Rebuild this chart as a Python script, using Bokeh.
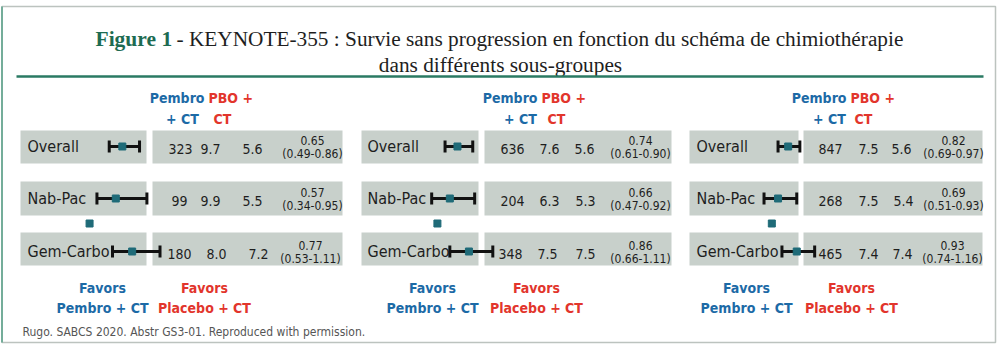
from bokeh.plotting import figure
from bokeh.models import Range1d
from bokeh.core.properties import value
from bokeh.embed import file_html
from bokeh.resources import INLINE

# ---------------- data ----------------
title_bold = "Figure 1"
title_rest = "- KEYNOTE-355 : Survie sans progression en fonction du schéma de chimiothérapie"
title_line2 = "dans différents sous-groupes"
subgroups = ["Overall", "Nab-Pac", "Gem-Carbo"]
header_pembro = ["Pembro", "+ CT"]
header_pbo = ["PBO +", "CT"]
favors_left = ["Favors", "Pembro + CT"]
favors_right = ["Favors", "Placebo + CT"]
source_note = "Rugo. SABCS 2020. Abstr GS3-01. Reproduced with permission."

# one list per panel, one value per subgroup
n_patients = [[323, 99, 180], [636, 204, 348], [847, 268, 465]]
pfs_pembro = [[9.7, 9.9, 8.0], [7.6, 6.3, 7.5], [7.5, 7.5, 7.4]]
pfs_pbo = [[5.6, 5.5, 7.2], [5.6, 5.3, 7.5], [5.6, 5.4, 7.4]]
hr = [[0.65, 0.57, 0.77], [0.74, 0.66, 0.86], [0.82, 0.69, 0.93]]
hr_low = [[0.49, 0.34, 0.53], [0.61, 0.47, 0.66], [0.69, 0.51, 0.74]]
hr_high = [[0.86, 0.95, 1.11], [0.90, 0.92, 1.11], [0.97, 0.93, 1.16]]
stray_marker_hr = [0.25, 0.53, 0.61]

# ---------------- styles / layout ----------------
NARROW = "DejaVu Sans Condensed, Roboto"
SERIF = "Liberation Serif"
BLUE = "#1c6aa6"
RED = "#e2352c"
GREEN = "#1d6b52"
BOX = "#c8d0cb"
MARK = "#1f6b78"
TXT = "#1e1e1e"

PANELS = [
    dict(lab_box=(20, 146), val_box=(152, 342), lab_x=27, hdr=(204, 208, 182, 222),
         cols=[(180, 210, 252, 312), (179, 210, 252, 312), (179, 216, 258, 310)],
         fav=(102, 204), a=68.6, b=81.9),
    dict(lab_box=(361, 478), val_box=(484, 671), lab_x=367, hdr=(537, 541, 520, 556),
         cols=[(512, 549, 584, 640), (512, 549, 585, 640), (510, 547, 585, 640)],
         fav=(432, 536), a=386.3, b=95.5),
    dict(lab_box=(689, 798), val_box=(803, 982), lab_x=696, hdr=(846, 850, 829, 863),
         cols=[(830, 868, 901, 953), (830, 868, 903, 953), (830, 868, 902, 952)],
         fav=(746, 851), a=723.8, b=77.9),
]
ROWS = [(130, 163, 146), (181, 215, 198), (232, 265, 251)]
X0, X1, Y0, Y1 = 0, 1000, 0, 356

p = figure(width=X1 - X0, height=Y1 - Y0, x_range=Range1d(X0, X1), y_range=Range1d(Y1, Y0),
           x_axis_location=None, y_axis_location=None,
           output_backend="svg", toolbar_location=None, min_border=0)
p.grid.visible = False
p.outline_line_color = None
p.background_fill_color = "white"
p.border_fill_color = "white"


def txt(x, y, s, size, color=TXT, font=NARROW, style="normal", align="center", base="middle"):
    p.text(x=[x], y=[y], text=[s], text_font=value(font), text_font_size=size,
           text_font_style=style, text_color=color, text_align=align, text_baseline=base)


# frame
p.quad(left=[1.5], right=[995], top=[6], bottom=[342], fill_color=None, line_color="#bcc3bf", line_width=1.5)
p.segment(x0=[1.5], x1=[1.5], y0=[6], y1=[342], line_color="#74ad9a", line_width=2)

# title
txt(95, 38, title_bold, "21.5px", color=GREEN, font=SERIF, style="bold", align="left", base="alphabetic")
txt(176, 38, title_rest, "21.3px", font=SERIF, align="left", base="alphabetic")
txt(500, 64, title_line2, "21.3px", font=SERIF, align="center", base="alphabetic")
p.segment(x0=[16], x1=[983], y0=[76], y1=[76], line_color="#2a7a63", line_width=2.5)

for i, L in enumerate(PANELS):
    rname = "hr%d" % i
    p.extra_x_ranges[rname] = Range1d((X0 - L["a"]) / L["b"], (X1 - L["a"]) / L["b"])

    # boxes
    p.quad(left=[L["lab_box"][0]] * 3, right=[L["lab_box"][1]] * 3,
           top=[r[0] for r in ROWS], bottom=[r[1] for r in ROWS], fill_color=BOX, line_color=None)
    p.quad(left=[L["val_box"][0]] * 3, right=[L["val_box"][1]] * 3,
           top=[r[0] for r in ROWS], bottom=[r[1] for r in ROWS], fill_color=BOX, line_color=None)

    # headers
    hp, hb, hp2, hb2 = L["hdr"]
    txt(hp, 97, header_pembro[0], "14px", color=BLUE, style="bold", align="right")
    txt(hb, 97, header_pbo[0], "14px", color=RED, style="bold", align="left")
    txt(hp2, 118, header_pembro[1], "14px", color=BLUE, style="bold")
    txt(hb2, 118, header_pbo[1], "14px", color=RED, style="bold")

    for j, g in enumerate(subgroups):
        top, bot, yc = ROWS[j]
        txt(L["lab_x"], yc, g, "16px", align="left")
        c = L["cols"][j]
        txt(c[0], yc + 2, str(n_patients[i][j]), "14px")
        txt(c[1], yc + 2, "%.1f" % pfs_pembro[i][j], "14px")
        txt(c[2], yc + 2, "%.1f" % pfs_pbo[i][j], "14px")
        txt(c[3], yc - 6, "%.2f" % hr[i][j], "12px")
        txt(c[3], yc + 7, "(%.2f-%.2f)" % (hr_low[i][j], hr_high[i][j]), "12px")

    # forest plot
    lo, hi, est = hr_low[i], hr_high[i], hr[i]
    ys = [r[2] for r in ROWS]
    p.segment(x0=lo, x1=hi, y0=ys, y1=ys, x_range_name=rname, line_color="#111111", line_width=3)
    p.segment(x0=lo, x1=lo, y0=[y - 6 for y in ys], y1=[y + 6 for y in ys], x_range_name=rname,
              line_color="#111111", line_width=3)
    p.segment(x0=hi, x1=hi, y0=[y - 6 for y in ys], y1=[y + 6 for y in ys], x_range_name=rname,
              line_color="#111111", line_width=3)
    p.scatter(x=est, y=ys, x_range_name=rname, marker="square", size=7, fill_color=MARK, line_color=MARK)
    p.scatter(x=[stray_marker_hr[i]], y=[223], x_range_name=rname, marker="square", size=7,
              fill_color=MARK, line_color=MARK)

    # favors
    fl, fr = L["fav"]
    txt(fl, 287, favors_left[0], "14px", color=BLUE, style="bold")
    txt(fl, 307, favors_left[1], "14px", color=BLUE, style="bold")
    txt(fr, 287, favors_right[0], "14px", color=RED, style="bold")
    txt(fr, 307, favors_right[1], "14px", color=RED, style="bold")

txt(22, 331, source_note, "12px", color="#555555", align="left")

open("out.html", "w").write(file_html(p, INLINE))
